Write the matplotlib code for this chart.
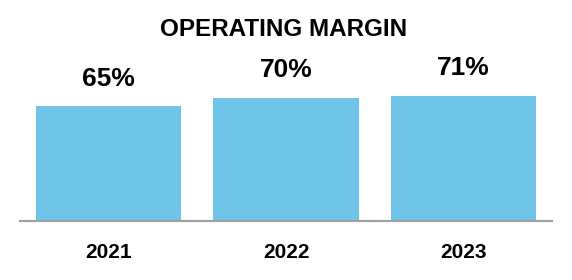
import matplotlib
matplotlib.use("Agg")
import matplotlib.pyplot as plt

years = ["2021", "2022", "2023"]
margins = [65, 70, 71]
value_labels = ["65%", "70%", "71%"]
title = "OPERATING MARGIN"

plt.rcParams['font.family'] = ['Liberation Sans', 'DejaVu Sans']

W, H = 572, 280
fig = plt.figure(figsize=(W / 100, H / 100), dpi=100)
ax_left, ax_right = 20, 552
base_y, top_y = 221, 80
ax = fig.add_axes([ax_left / W, (H - base_y) / H, (ax_right - ax_left) / W, (base_y - top_y) / H])

x = list(range(len(years)))
ax.bar(x, margins, width=0.818, color="#70C4E8", zorder=2)
ax.set_xlim(-0.5, 2.5)
ax.set_ylim(0, 80)

for xi, v, lab in zip(x, margins, value_labels):
    ax.annotate(lab, (xi, v), xytext=(0, 20), textcoords="offset points",
                ha="center", va="center", fontsize=19, fontweight="bold",
                color="black", annotation_clip=False)

for s in ["top", "right", "left"]:
    ax.spines[s].set_visible(False)
ax.spines["bottom"].set_color("#A0A0A0")
ax.spines["bottom"].set_linewidth(1.5)
ax.set_yticks([])
ax.set_xticks(x)
ax.set_xticklabels(years, fontsize=15, fontweight="bold")
ax.tick_params(axis="x", length=0, pad=16)

fig.text(284 / W, 1 - 29 / H, title, ha="center", va="center",
         fontsize=17.5, fontweight="bold")

fig.savefig("out.png", dpi=100)
